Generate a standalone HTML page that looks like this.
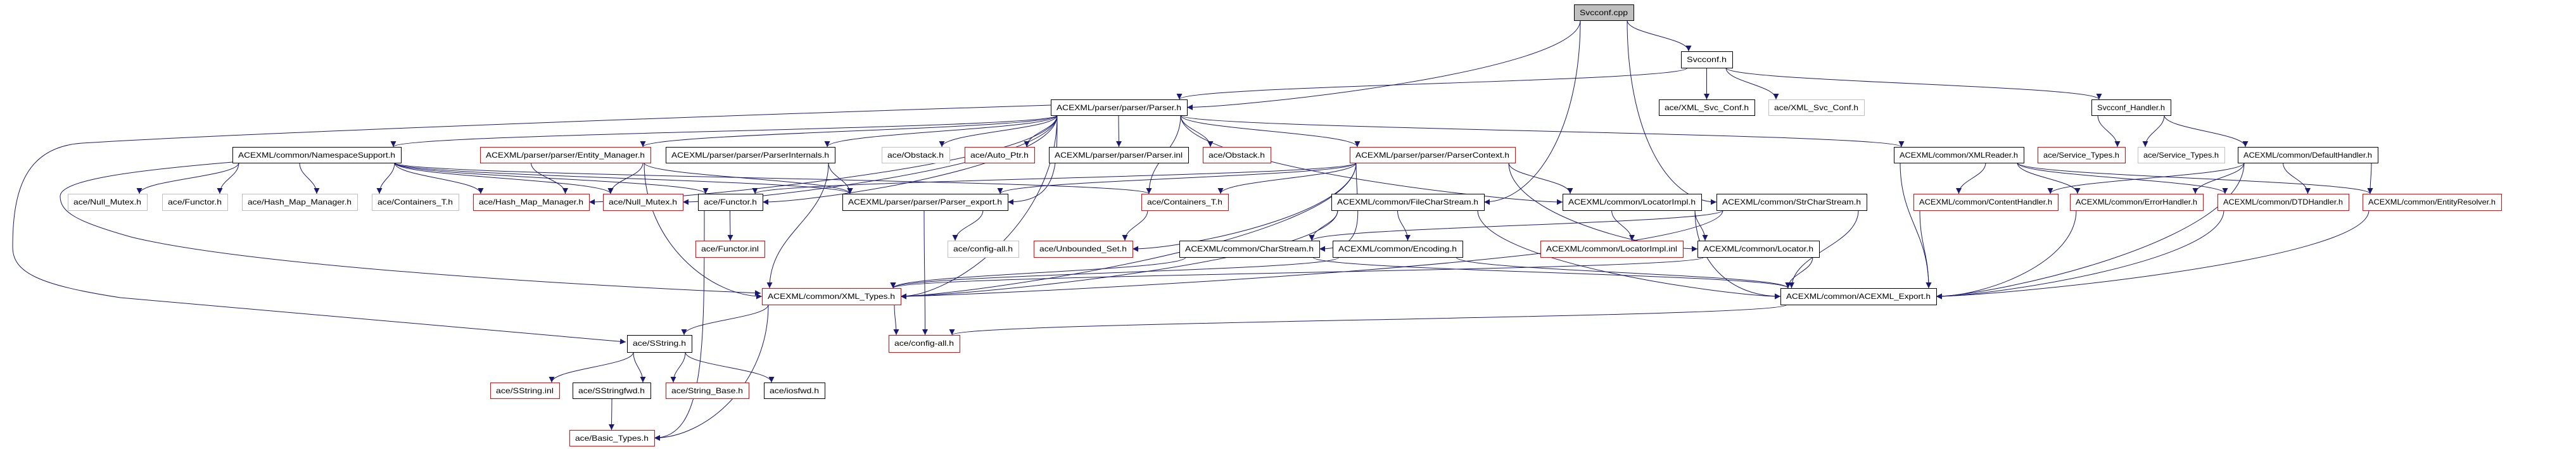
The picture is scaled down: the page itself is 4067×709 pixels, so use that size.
<!DOCTYPE html>
<html><head><meta charset="utf-8"><style>
html,body{margin:0;padding:0;background:#fff;}
svg{display:block;}
text{font-family:"Liberation Sans",sans-serif;font-size:12px;fill:#000;}
</style></head><body>
<svg id="g" width="4067" height="709" viewBox="0 0 4067 709" xmlns="http://www.w3.org/2000/svg">
<defs><marker id="a" viewBox="0 0 10 10" refX="10" refY="5" markerWidth="10" markerHeight="9" markerUnits="userSpaceOnUse" orient="auto"><path d="M0,0 L10,5 L0,10 z" fill="#191970"/></marker></defs>
<g id="e" fill="none" stroke="#191970" stroke-width="1">
<path d="M1659,166 C900,190 300,215 130,226 C40,232 20,300 20,390 C20,430 60,450 190,470 L988,540" marker-end="url(#a)"/>
<path d="M367,256 C200,270 95,285 95,310 C95,335 120,350 210,375 C400,420 900,450 1201,463" marker-end="url(#a)"/>
</g>
<g id="n"></g>
</svg>
<script>
var R=[[7,32],[81,107],[157,182],[232,257],[306,332],[380,406],[455,481],[529,556],[604,629],[679,704]];
var N={
cpp:["Svcconf.cpp",2485,2579,0,"k",1],
sh:["Svcconf.h",2654,2735,1,"k"],
ph:["ACEXML/parser/parser/Parser.h",1659,1874,2,"k"],
xsc:["ace/XML_Svc_Conf.h",2619,2770,2,"k"],
xscg:["ace/XML_Svc_Conf.h",2792,2943,2,"g"],
shd:["Svcconf_Handler.h",3302,3427,2,"k"],
ns:["ACEXML/common/NamespaceSupport.h",367,633,3,"k"],
em:["ACEXML/parser/parser/Entity_Manager.h",758,1027,3,"r"],
pi:["ACEXML/parser/parser/ParserInternals.h",1051,1318,3,"k"],
obg:["ace/Obstack.h",1392,1499,3,"g"],
ap:["ace/Auto_Ptr.h",1523,1633,3,"r"],
pinl:["ACEXML/parser/parser/Parser.inl",1656,1876,3,"k"],
obr:["ace/Obstack.h",1899,2006,3,"r"],
pc:["ACEXML/parser/parser/ParserContext.h",2131,2392,3,"r"],
xr:["ACEXML/common/XMLReader.h",2990,3195,3,"k"],
str:["ace/Service_Types.h",3217,3355,3,"r"],
stg:["ace/Service_Types.h",3375,3512,3,"g"],
dh:["ACEXML/common/DefaultHandler.h",3533,3754,3,"k"],
nmg:["ace/Null_Mutex.h",107,232,4,"g"],
fg:["ace/Functor.h",256,359,4,"g"],
hmg:["ace/Hash_Map_Manager.h",382,564,4,"g"],
ctg:["ace/Containers_T.h",587,724,4,"g"],
hmr:["ace/Hash_Map_Manager.h",747,930,4,"r"],
nmr:["ace/Null_Mutex.h",952,1078,4,"r"],
fk:["ace/Functor.h",1102,1204,4,"k"],
pe:["ACEXML/parser/parser/Parser_export.h",1330,1591,4,"k"],
ctr:["ace/Containers_T.h",1802,1939,4,"r"],
fcs:["ACEXML/common/FileCharStream.h",2102,2343,4,"k"],
li:["ACEXML/common/LocatorImpl.h",2467,2686,4,"k"],
scs:["ACEXML/common/StrCharStream.h",2710,2947,4,"k"],
ch:["ACEXML/common/ContentHandler.h",3021,3249,4,"r"],
eh:["ACEXML/common/ErrorHandler.h",3268,3478,4,"r"],
dtd:["ACEXML/common/DTDHandler.h",3501,3708,4,"r"],
er:["ACEXML/common/EntityResolver.h",3730,3949,4,"r"],
finl:["ace/Functor.inl",1098,1207,5,"r"],
cag:["ace/config-all.h",1496,1608,5,"g"],
us:["ace/Unbounded_Set.h",1632,1788,5,"r"],
cs:["ACEXML/common/CharStream.h",1862,2083,5,"k"],
enc:["ACEXML/common/Encoding.h",2104,2309,5,"k"],
linl:["ACEXML/common/LocatorImpl.inl",2432,2657,5,"r"],
loc:["ACEXML/common/Locator.h",2680,2872,5,"k"],
xt:["ACEXML/common/XML_Types.h",1203,1422,6,"r"],
ae:["ACEXML/common/ACEXML_Export.h",2811,3057,6,"k"],
ss:["ace/SString.h",990,1092,7,"k"],
car:["ace/config-all.h",1403,1515,7,"r"],
ssi:["ace/SString.inl",774,883,8,"r"],
ssf:["ace/SStringfwd.h",904,1027,8,"k"],
sb:["ace/String_Base.h",1051,1182,8,"r"],
io:["ace/iosfwd.h",1206,1302,8,"k"],
bt:["ace/Basic_Types.h",899,1033,9,"r"]
};
var E="cpp ph,cpp sh,cpp fcs,cpp scs,sh ph,sh xsc,sh xscg,sh shd,shd str,shd stg,shd dh,ph ns,ph em,ph pi,ph obg,ph ap,ph pinl,ph obr,ph pc,ph xr,ph li,ph pe,ph ctr,ph hmr,ph nmr,ph fk,ph xt,ns nmg,ns fg,ns hmg,ns ctg,ns hmr,ns nmr,ns pe,ns ctr,ns fk,em hmr,em nmr,em xt,em pe,pi pe,pi xt,pc fk,pc ctr,pc pe,pc li,pc loc,pc xt,pc us,pc cs,xr ch,xr eh,xr dtd,xr er,xr ae,dh ch,dh eh,dh dtd,dh er,dh ae,ch ae,eh ae,dtd ae,er ae,fcs cs,fcs enc,fcs ae,fcs xt,li linl,li loc,li ae,scs cs,scs ae,scs xt,cs xt,cs ae,enc xt,enc ae,loc xt,loc ae,fk finl,fk bt,ctr us,pe cag,pe car,xt ss,xt car,xt bt,ae car,ss ssi,ss ssf,ss sb,ss io,ssf bt".split(",");
var NS="http://www.w3.org/2000/svg";
var eg=document.getElementById("e"),ng=document.getElementById("n");
function cl(v,a,b){return Math.max(a,Math.min(b,v));}
E.forEach(function(s){var p=s.split(" "),a=N[p[0]],b=N[p[1]];
 var acx=(a[1]+a[2])/2,bcx=(b[1]+b[2])/2,ay2=R[a[3]][1],by1=R[b[3]][0];
 var d;
 if(b[3]==a[3]+1||Math.abs(acx-bcx)<(b[2]-b[1])){
  var sx=cl(bcx,a[1]+10,a[2]-10),tx=cl(acx,b[1]+12,b[2]-12);
  var dy=by1-ay2;
  d="M"+sx+","+ay2+" C"+sx+","+(ay2+dy*0.45)+" "+tx+","+(by1-dy*0.45)+" "+tx+","+by1;
 } else {
  var sx=cl(bcx,a[1]+10,a[2]-10); var my=(R[b[3]][0]+R[b[3]][1])/2;
  var tx= acx<bcx? b[1] : b[2];
  d="M"+sx+","+ay2+" C"+sx+","+(ay2+(my-ay2)*0.6)+" "+(tx+(acx<bcx?-80:80))+","+my+" "+tx+","+my;
 }
 var pa=document.createElementNS(NS,"path");pa.setAttribute("d",d);pa.setAttribute("marker-end","url(#a)");eg.appendChild(pa);
});
for(var k in N){var n=N[k],y=R[n[3]];
 var r=document.createElementNS(NS,"rect");
 r.setAttribute("x",n[1]+0.5);r.setAttribute("y",y[0]+0.5);r.setAttribute("width",n[2]-n[1]);r.setAttribute("height",y[1]-y[0]);
 r.setAttribute("fill",n[5]?"#bfbfbf":"#fff");r.setAttribute("stroke",n[4]=="k"?"#000":n[4]=="r"?"#ff0000":"#bfbfbf");
 ng.appendChild(r);
 var t=document.createElementNS(NS,"text");
 t.setAttribute("x",n[1]+9);t.setAttribute("y",y[0]+17);
 t.setAttribute("textLength",n[2]-n[1]-18);t.setAttribute("lengthAdjust","spacingAndGlyphs");
 t.textContent=n[0];ng.appendChild(t);
}
</script>
</body></html>
